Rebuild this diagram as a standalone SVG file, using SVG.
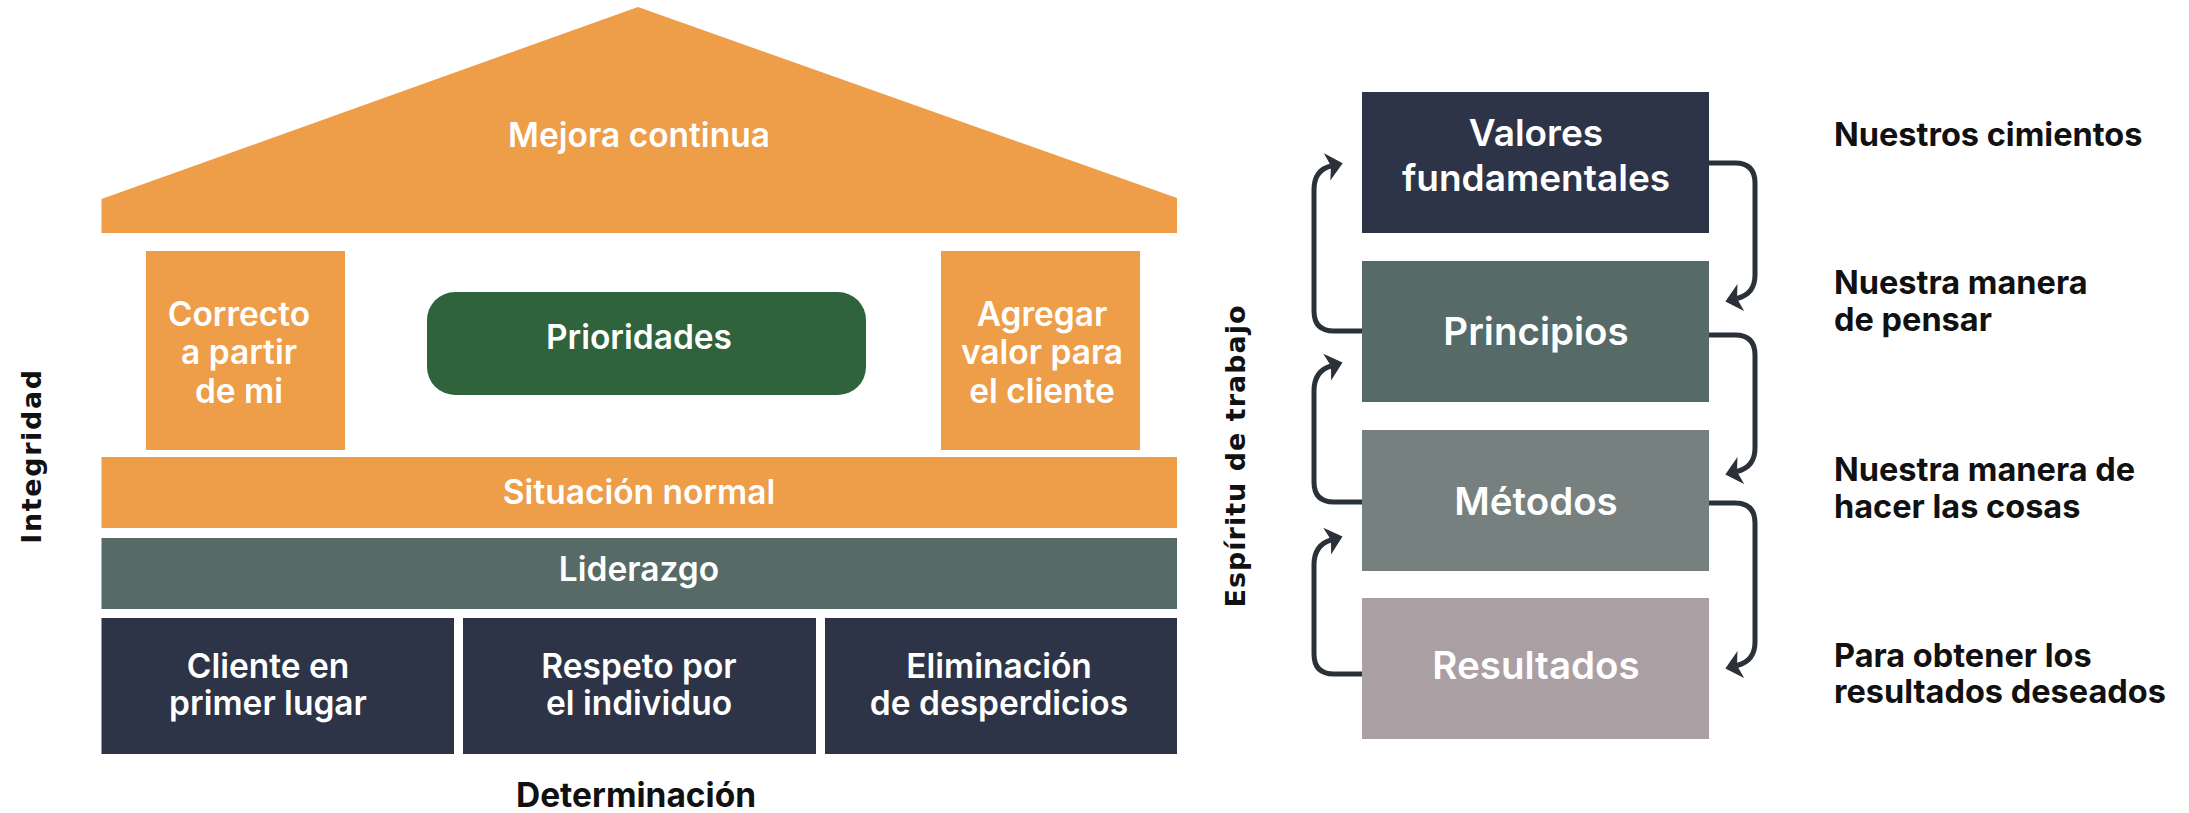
<svg xmlns="http://www.w3.org/2000/svg" width="2189" height="813" viewBox="0 0 2189 813">
<defs>
<style>
.t{font-family:Inter,"Liberation Sans",sans-serif;font-weight:600;fill:#fff;text-anchor:middle;font-size:33.5px}
.bt{font-size:38.5px}
.bt2{font-size:37px}
.lbl{font-family:Inter,"Liberation Sans",sans-serif;font-weight:700;fill:#111;font-size:32.5px}
.side{font-family:"DejaVu Sans","Liberation Sans",sans-serif;font-weight:700;fill:#111;font-size:27px;text-anchor:middle}
.orange{fill:#EE9D49}
.navy{fill:#2E3447}
.conn{fill:none;stroke:#2B3139;stroke-width:5;marker-end:url(#ah)}
</style>
<marker id="ah" markerUnits="userSpaceOnUse" markerWidth="20" markerHeight="30" viewBox="0 -15 20 30" refX="4" refY="0" orient="auto">
<path d="M0,-14 L16,0 L0,14 L4,0 Z" fill="#2B3139"/>
</marker>
</defs>
<rect width="2189" height="813" fill="#fff"/>

<g id="roof">
<polygon class="orange" points="101.5,199 638,7 1177,198 1177,233 101.5,233"/>
<text class="t" x="639" y="147">Mejora continua</text>
</g>
<g id="pillar-left">
<rect class="orange" x="146" y="251" width="199" height="199"/>
<text class="t" x="239" y="326">Correcto</text>
<text class="t" x="239" y="364">a partir</text>
<text class="t" x="239" y="403">de mi</text>
</g>
<g id="prioridades">
<rect x="427" y="292" width="439" height="103" rx="28" fill="#2F633B"/>
<text class="t" x="639" y="349">Prioridades</text>
</g>
<g id="pillar-right">
<rect class="orange" x="941" y="251" width="199" height="199"/>
<text class="t" x="1042" y="326">Agregar</text>
<text class="t" x="1042" y="364">valor para</text>
<text class="t" x="1042" y="403">el cliente</text>
</g>
<g id="situacion">
<rect class="orange" x="101.5" y="457" width="1075.5" height="71"/>
<text class="t" x="639" y="504">Situación normal</text>
</g>
<g id="liderazgo">
<rect x="101.5" y="538" width="1075.5" height="71" fill="#566B67"/>
<text class="t" x="639" y="581">Liderazgo</text>
</g>
<g id="cliente">
<rect class="navy" x="101.5" y="618" width="352.5" height="136"/>
<text class="t" x="268" y="678">Cliente en</text>
<text class="t" x="268" y="715">primer lugar</text>
</g>
<g id="respeto">
<rect class="navy" x="463" y="618" width="353" height="136"/>
<text class="t" x="639" y="678">Respeto por</text>
<text class="t" x="639" y="715">el individuo</text>
</g>
<g id="eliminacion">
<rect class="navy" x="825" y="618" width="352" height="136"/>
<text class="t" x="999" y="678">Eliminación</text>
<text class="t" x="999" y="715">de desperdicios</text>
</g>
<g id="integridad">
<text class="side" transform="translate(41,456) rotate(-90)" style="letter-spacing:1.6px">Integridad</text>
</g>
<g id="determinacion">
<text class="lbl" x="636" y="807" text-anchor="middle" style="font-size:33.5px">Determinación</text>
</g>

<g id="espiritu">
<text class="side" transform="translate(1245,456) rotate(-90)" style="letter-spacing:1px">Espíritu de trabajo</text>
</g>
<g id="valores">
<rect class="navy" x="1362" y="92" width="347" height="141"/>
<text class="t bt2" x="1536" y="146">Valores</text>
<text class="t bt2" x="1536" y="191">fundamentales</text>
</g>
<g id="principios">
<rect x="1362" y="261" width="347" height="141" fill="#566B67"/>
<text class="t bt" x="1536" y="345">Principios</text>
</g>
<g id="metodos">
<rect x="1362" y="430" width="347" height="141" fill="#76817F"/>
<text class="t bt" x="1536" y="515">Métodos</text>
</g>
<g id="resultados">
<rect x="1362" y="598" width="347" height="141" fill="#AA9FA3"/>
<text class="t bt" x="1536" y="679">Resultados</text>
</g>

<g id="labels">
<text class="lbl" x="1834" y="146">Nuestros cimientos</text>
<text class="lbl" x="1834" y="294">Nuestra manera</text>
<text class="lbl" x="1834" y="331">de pensar</text>
<text class="lbl" x="1834" y="481">Nuestra manera de</text>
<text class="lbl" x="1834" y="518">hacer las cosas</text>
<text class="lbl" x="1834" y="667">Para obtener los</text>
<text class="lbl" x="1834" y="703">resultados deseados</text>
</g>

<g id="connectors">
<path class="conn" d="M1709,163 H1735 Q1755,163 1755,183 V275 Q1755,294 1737,298.5"/>
<path class="conn" d="M1709,335 H1735 Q1755,335 1755,355 V448 Q1755,467 1737,471.5"/>
<path class="conn" d="M1709,503 H1735 Q1755,503 1755,523 V642 Q1755,661 1737,665.5"/>
<path class="conn" d="M1362,331 H1334 Q1314,331 1314,311 V190 Q1314,170 1331,166"/>
<path class="conn" d="M1362,502 H1334 Q1314,502 1314,482 V391 Q1314,371 1331,366"/>
<path class="conn" d="M1362,674 H1334 Q1314,674 1314,654 V565 Q1314,545 1331,540"/>
</g>
</svg>
